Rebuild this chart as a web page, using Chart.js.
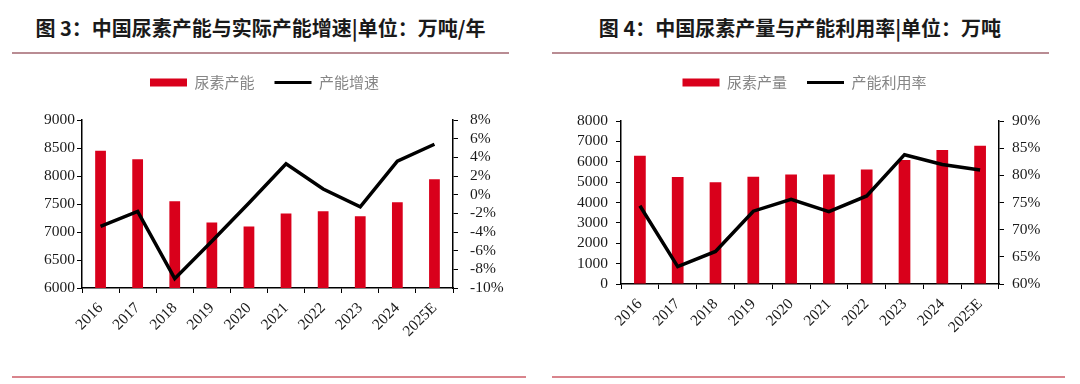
<!DOCTYPE html>
<html>
<head>
<meta charset="utf-8">
<script src="https://cdn.jsdelivr.net/npm/chart.js@4/dist/chart.umd.min.js"></script>
<style>
  html, body { margin: 0; padding: 0; background: #fff; }
  body { width: 1080px; height: 384px; position: relative; overflow: hidden; }
  .title { position: absolute; top: 12px; height: 32px; line-height: 32px; text-align: center;
           font-family: "Noto Sans CJK SC", sans-serif; font-weight: 700; font-size: 20px; color: #1a1a1a; white-space: nowrap; }
  .rule { position: absolute; height: 2px; }
  canvas { position: absolute; }
</style>
</head>
<body>
<div class="title" style="left:0;width:521px;">图 3：中国尿素产能与实际产能增速|单位：万吨/年</div>
<div class="title" style="left:540px;width:520px;">图 4：中国尿素产量与产能利用率|单位：万吨</div>
<div class="rule" style="left:12px;width:497px;top:52px;background:#b98c93;"></div>
<div class="rule" style="left:552px;width:497px;top:52px;background:#b98c93;"></div>
<div class="rule" style="left:12px;width:514px;top:376px;background:#d9848c;"></div>
<div class="rule" style="left:552px;width:513px;top:376px;background:#d9848c;"></div>
<canvas id="c1" width="540" height="310" style="left:0;top:60px;"></canvas>
<canvas id="c2" width="540" height="310" style="left:540px;top:60px;"></canvas>
<script>
// ---- data ----
const years = ['2016','2017','2018','2019','2020','2021','2022','2023','2024','2025E'];
const capacity = [8450, 8300, 7550, 7170, 7100, 7330, 7370, 7280, 7530, 7940];
const capacityGrowth = [-3.4, -1.8, -9.0, -5.0, -0.9, 3.3, 0.6, -1.3, 3.6, 5.4];
const output = [6290, 5250, 5000, 5260, 5380, 5380, 5620, 6090, 6580, 6790];
const utilization = [74.4, 63.2, 66.0, 73.4, 75.6, 73.3, 76.2, 83.8, 82.0, 81.0];
const names1 = ['尿素产能', '产能增速'];
const names2 = ['尿素产量', '产能利用率'];

const RED = '#d9001b';
const tickFont = { family: '"Liberation Serif", "Times New Roman", serif', size: 15.5 };
const tickColor = '#1a1a1a';

function legendFix(h) {
  return {
    id: 'legendFix',
    beforeUpdate(chart) {
      const lg = chart.legend;
      if (!lg || lg._patched) return;
      const f = lg.fit.bind(lg);
      lg.fit = function () { f(); this.height = h; };
      lg._patched = true;
    }
  };
}

function makeChart(id, names, barData, lineData, cfg) {
  return new Chart(document.getElementById(id), {
    data: {
      labels: years,
      datasets: [
        { type: 'bar', label: names[0], data: barData, backgroundColor: RED, borderWidth: 0,
          yAxisID: 'y', order: 2, categoryPercentage: 1, barPercentage: cfg.barPct },
        { type: 'line', label: names[1], data: lineData, borderColor: '#000', backgroundColor: '#000',
          borderWidth: 3.5, pointRadius: 0, tension: 0, yAxisID: 'y1', order: 1 }
      ]
    },
    options: {
      responsive: false,
      animation: false,
      layout: { padding: { top: -5, left: 0, right: 11, bottom: 0 } },
      plugins: {
        tooltip: { enabled: false },
        legend: {
          position: 'top',
          labels: {
            usePointStyle: true,
            pointStyleWidth: 37,
            boxHeight: 8,
            padding: 20,
            color: '#858585',
            font: { family: '"Noto Sans CJK SC", sans-serif', size: 15 },
            generateLabels(chart) {
              const items = Chart.defaults.plugins.legend.labels.generateLabels(chart);
              items.sort((a, b) => a.datasetIndex - b.datasetIndex);
              items.forEach(it => {
                if (it.datasetIndex === 0) {
                  it.pointStyle = 'rect'; it.fillStyle = RED; it.strokeStyle = RED; it.lineWidth = 0;
                } else {
                  it.pointStyle = 'line'; it.fillStyle = '#000'; it.strokeStyle = '#000'; it.lineWidth = 3;
                }
              });
              return items;
            }
          }
        }
      },
      scales: {
        x: {
          offset: true,
          grid: { display: true, drawOnChartArea: false, drawTicks: true, tickLength: 5, color: '#000', offset: true },
          border: { display: true, color: '#000', width: 1.5 },
          ticks: { color: tickColor, font: tickFont, minRotation: 45, maxRotation: 45, padding: 6, autoSkip: false },
          afterFit(s) { s.height = cfg.xH; }
        },
        y: {
          position: 'left',
          min: cfg.yMin, max: cfg.yMax,
          grid: { display: true, drawOnChartArea: false, drawTicks: true, tickLength: 5, color: '#000' },
          border: { display: true, color: '#000', width: 1.5 },
          ticks: { stepSize: cfg.yStep, color: tickColor, font: tickFont, padding: cfg.yPad, autoSkip: false,
                   callback: v => String(v) },
          afterFit(s) { s.width = cfg.yW; }
        },
        y1: {
          position: 'right',
          min: cfg.y1Min, max: cfg.y1Max,
          grid: { display: true, drawOnChartArea: false, drawTicks: true, tickLength: 5, color: '#000' },
          border: { display: true, color: '#000', width: 1.5 },
          ticks: { stepSize: cfg.y1Step, color: tickColor, font: tickFont, padding: cfg.y1Pad, autoSkip: false,
                   callback: v => v + '%' },
          afterFit(s) { s.width = cfg.y1W; }
        }
      }
    },
    plugins: [legendFix(cfg.legendH)]
  });
}

makeChart('c1', names1, capacity, capacityGrowth, {
  barPct: 0.29, xH: 82, legendH: 65,
  yMin: 6000, yMax: 9000, yStep: 500, yW: 82, yPad: 2,
  y1Min: -10, y1Max: 8, y1Step: 2, y1W: 76, y1Pad: 12
});
makeChart('c2', names2, output, utilization, {
  barPct: 0.31, xH: 86, legendH: 66,
  yMin: 0, yMax: 8000, yStep: 1000, yW: 81, yPad: 8,
  y1Min: 60, y1Max: 90, y1Step: 5, y1W: 70, y1Pad: 8
});
</script>
</body>
</html>
